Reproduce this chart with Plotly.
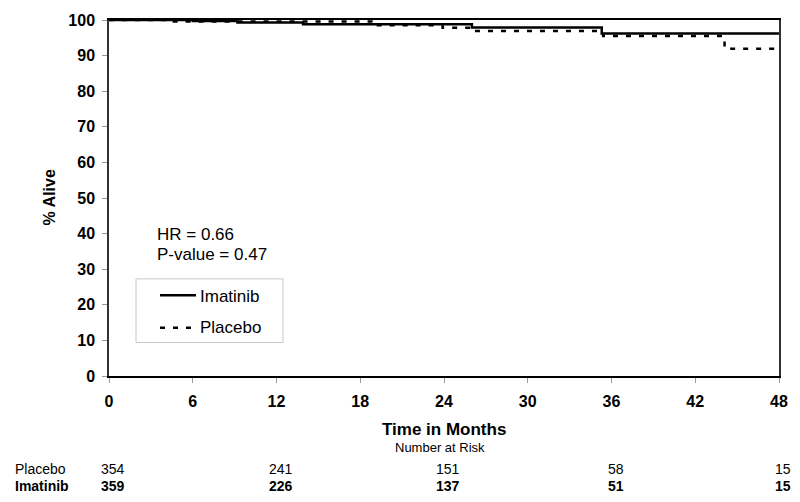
import plotly.graph_objects as go

# ---- data ----
imatinib_t = [0, 6, 9.2, 13.9, 26, 35.3, 48]
imatinib_s = [100, 99.7, 99.3, 98.8, 97.9, 96.2, 96.2]
placebo_t = [0, 4, 18.8, 23.9, 26.1, 35.4, 44.1, 48]
placebo_s = [100, 99.6, 98.5, 97.8, 96.9, 95.5, 91.9, 91.9]

x_ticks = [0, 6, 12, 18, 24, 30, 36, 42, 48]
y_ticks = [0, 10, 20, 30, 40, 50, 60, 70, 80, 90, 100]

risk_times = [0, 12, 24, 36, 48]
risk_placebo = [354, 241, 151, 58, 15]
risk_imatinib = [359, 226, 137, 51, 15]

FONT = "Arial, Liberation Sans, sans-serif"
DASH = "5px,8px"

fig = go.Figure()
fig.add_trace(go.Scatter(
    x=imatinib_t, y=imatinib_s, mode="lines", name="Imatinib",
    line=dict(color="black", width=2.5, shape="hv")))
fig.add_trace(go.Scatter(
    x=placebo_t, y=placebo_s, mode="lines", name="Placebo",
    line=dict(color="black", width=2.5, shape="hv", dash=DASH)))

def py(p):  # pixel y -> paper y
    return (376 - p) / 361

def px(p):  # pixel x -> paper x
    return (p - 109) / 670

def A(text, x, y, xref="paper", size=14, bold=False, xanchor="center", **kw):
    f = dict(family=FONT, size=size, color="black")
    if bold:
        f["weight"] = "bold"
    d = dict(text=text, x=x, y=y, xref=xref, yref="paper", showarrow=False,
             xanchor=xanchor, yanchor="middle", font=f)
    d.update(kw)
    return d

ann = [
    A("% Alive", px(50), py(195), size=16, bold=True, textangle=-90),
    A("Time in Months", 24, py(430), xref="x", size=17, bold=True),
    A("Number at Risk", 24, py(449), xref="x", size=13, xshift=-4),
    A("HR = 0.66", px(155), py(233), size=17, xanchor="left"),
    A("P-value = 0.47", px(155), py(253), size=17, xanchor="left"),
    A("Placebo", px(13), py(470), size=14, xanchor="left"),
    A("Imatinib", px(13), py(488), size=14, bold=True, xanchor="left"),
    # legend entries (text)
    A("Imatinib", px(198), py(295), size=17, xanchor="left"),
    A("Placebo", px(198), py(327), size=17, xanchor="left"),
]
for t, v in zip(risk_times, risk_placebo):
    ann.append(A(str(v), t, py(470), xref="x", size=14, xshift=4))
for t, v in zip(risk_times, risk_imatinib):
    ann.append(A(str(v), t, py(488), xref="x", size=14, bold=True, xshift=4))

shapes = [
    # legend box
    dict(type="rect", xref="paper", yref="paper", x0=px(136), x1=px(283),
         y0=py(342), y1=py(277.5), line=dict(color="#c8c8c8", width=1),
         fillcolor="white", layer="above"),
    # legend samples
    dict(type="line", xref="paper", yref="paper", x0=px(160), x1=px(196),
         y0=py(294), y1=py(294), line=dict(color="black", width=2.5), layer="above"),
    dict(type="line", xref="paper", yref="paper", x0=px(160), x1=px(196),
         y0=py(327), y1=py(327), line=dict(color="black", width=2.5, dash=DASH),
         layer="above"),
]

fig.update_layout(
    width=800, height=502,
    margin=dict(l=109, r=21, t=15, b=126),
    paper_bgcolor="white", plot_bgcolor="white",
    font=dict(family=FONT, color="black"),
    showlegend=False,
    annotations=ann,
    shapes=shapes,
    xaxis=dict(range=[0, 48], tickvals=x_ticks, showgrid=False, zeroline=False,
               showline=True, linecolor="black", linewidth=1.5, mirror=True,
               ticks="outside", ticklen=5, tickcolor="#999",
               ticklabelstandoff=5,
               tickfont=dict(family=FONT, size=16, color="black", weight="bold")),
    yaxis=dict(range=[0, 100], tickvals=y_ticks, showgrid=False, zeroline=False,
               showline=True, linecolor="#333", linewidth=1.5, mirror=True,
               ticks="outside", ticklen=5, tickcolor="#999",
               ticklabelstandoff=4,
               tickfont=dict(family=FONT, size=16, color="black", weight="bold")),
)

fig.write_html("out.html", config={"displayModeBar": False},
               post_script="document.body.style.margin='0px';document.documentElement.style.overflow='hidden';")
